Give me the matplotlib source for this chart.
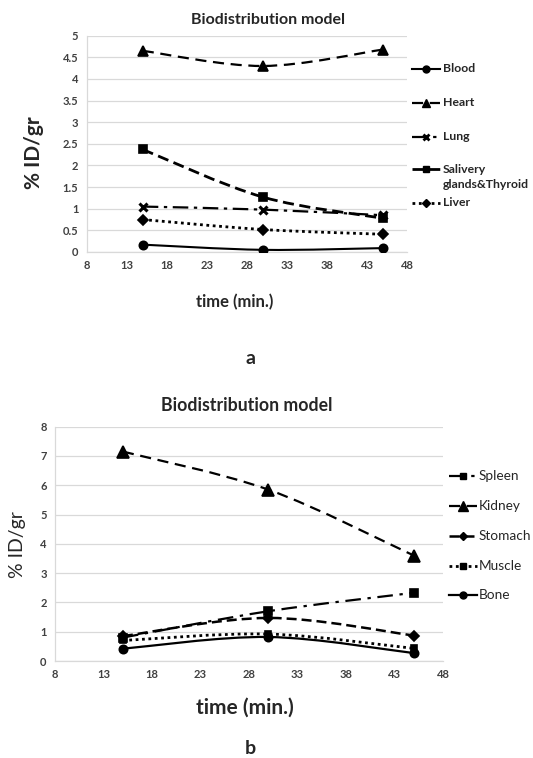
import numpy as np
import matplotlib
matplotlib.use("Agg")
import matplotlib.pyplot as plt
from matplotlib.path import Path
from matplotlib.patches import PathPatch
from matplotlib.lines import Line2D

plt.rcParams['font.family'] = ['Lato', 'DejaVu Sans']

# data
time = [15, 30, 45]

# panel a
blood = [0.17, 0.05, 0.09]
heart = [4.65, 4.30, 4.68]
lung = [1.05, 0.98, 0.85]
salivary = [2.37, 1.27, 0.78]
liver = [0.75, 0.52, 0.41]

# panel b
spleen = [0.80, 1.70, 2.33]
kidney = [7.15, 5.85, 3.60]
stomach = [0.85, 1.47, 0.87]
muscle = [0.70, 0.92, 0.43]
bone = [0.42, 0.82, 0.27]

x_ticks = [8, 13, 18, 23, 28, 33, 38, 43, 48]
y_ticks_a = [0, 0.5, 1, 1.5, 2, 2.5, 3, 3.5, 4, 4.5, 5]
y_ticks_b = [0, 1, 2, 3, 4, 5, 6, 7, 8]

W, H = 533, 758
TICK = '#404040'
TXT = '#262626'
GRID = '#d9d9d9'


def px(x, y):
    return x / W, 1 - y / H


def smooth_path(x, y):
    # excel-like smoothed line: catmull-rom turned into cubic bezier
    pts = np.column_stack([x, y]).astype(float)
    p = np.vstack([pts[0], pts, pts[-1]])
    verts = [pts[0]]
    codes = [Path.MOVETO]
    for i in range(1, len(p) - 2):
        c1 = p[i] + (p[i + 1] - p[i - 1]) / 6
        c2 = p[i + 1] - (p[i + 2] - p[i]) / 6
        verts += [c1, c2, p[i + 1]]
        codes += [Path.CURVE4] * 3
    return Path(verts, codes)


def draw_series(ax, y, ls, marker, lw, ms):
    ax.add_patch(PathPatch(smooth_path(time, y), fill=False, ec='black',
                           lw=lw, ls=ls, capstyle='butt', zorder=3))
    mew = 2.2 if marker == 'x' else 1.2
    ax.plot(time, y, ls='none', marker=marker, color='black', ms=ms,
            mew=mew, zorder=4)


def style_axes(ax, yticks, fs):
    ax.set_xlim(8, 48)
    ax.set_ylim(yticks[0], yticks[-1])
    ax.set_xticks(x_ticks)
    ax.set_yticks(yticks)
    ax.set_yticklabels([f'{v:g}' for v in yticks])
    ax.grid(axis='y', color=GRID, lw=0.9)
    ax.set_axisbelow(True)
    for s in ['top', 'right']:
        ax.spines[s].set_visible(False)
    for s in ['left', 'bottom']:
        ax.spines[s].set_color(GRID)
        ax.spines[s].set_linewidth(0.9)
    ax.tick_params(length=0, labelsize=fs, labelcolor=TICK, pad=6)
    for lab in ax.get_xticklabels() + ax.get_yticklabels():
        lab.set_fontweight('bold')


def legend_entry(x0, x1, y, ls, marker, ms, lw, label, tx, fs, weight):
    xa, ya = px(x0, y)
    xb, _ = px(x1, y)
    mew = 2.0 if marker == 'x' else 1.0
    fig.add_artist(Line2D([xa, (xa + xb) / 2, xb], [ya, ya, ya],
                          transform=fig.transFigure, color='black', lw=lw,
                          ls=ls, marker=marker, ms=ms, mew=mew, markevery=[1]))
    if label:
        fig.text(*px(tx, y), label, fontsize=fs, fontweight=weight,
                 color=TXT, va='center', ha='left')


fig = plt.figure(figsize=(W / 100, H / 100), dpi=100)

# ---- panel a ----
ax1 = fig.add_axes([86.7 / W, 1 - 252 / H, (407 - 86.7) / W, (252 - 35.7) / H])
style_axes(ax1, y_ticks_a, 8)
series_a = [
    ('Blood', blood, '-', 'o', 1.5, 6),
    ('Heart', heart, (0, (5, 3)), '^', 1.6, 7),
    ('Lung', lung, (0, (7, 2.5, 1.5, 2.5)), 'x', 1.6, 6),
    ('Salivery\nglands&Thyroid', salivary, (0, (4, 2)), 's', 2.0, 6),
    ('Liver', liver, (0, (1, 1.3)), 'D', 2.0, 5),
]
for name, vals, ls, mk, lw, ms in series_a:
    draw_series(ax1, vals, ls, mk, lw, ms)

fig.text(*px(268, 20), 'Biodistribution model', fontsize=11.5, fontweight='bold',
         ha='center', va='center', color=TXT)
fig.text(*px(34, 153), '% ID/gr', fontsize=15, fontweight='bold',
         rotation=90, ha='center', va='center', color=TXT)
fig.text(*px(235, 302), 'time (min.)', fontsize=12, fontweight='bold',
         ha='center', va='center', color=TXT)
fig.text(*px(250, 358), 'a', fontsize=14, fontweight='bold',
         ha='center', va='center', color=TXT)

leg_a_y = [69, 103, 137, 169, 203]
for (name, vals, ls, mk, lw, ms), y in zip(series_a, leg_a_y):
    label = '' if '\n' in name else name
    legend_entry(412, 440, y, ls, mk, ms - 1, lw, label, 443, 8.8, 'bold')
fig.text(*px(443, 177), series_a[3][0], fontsize=8.8, fontweight='bold',
         color=TXT, va='center', ha='left', linespacing=1.4)

# ---- panel b ----
ax2 = fig.add_axes([55 / W, 1 - 661 / H, (443 - 55) / W, (661 - 426.7) / H])
style_axes(ax2, y_ticks_b, 8)
series_b = [
    ('Spleen', spleen, (0, (7, 3, 1.5, 3)), 's', 1.6, 6),
    ('Kidney', kidney, (0, (5, 3)), '^', 1.6, 8),
    ('Stomach', stomach, (0, (4, 2)), 'D', 1.8, 5),
    ('Muscle', muscle, (0, (1, 1.3)), 's', 2.0, 5),
    ('Bone', bone, '-', 'o', 1.6, 6),
]
for name, vals, ls, mk, lw, ms in series_b:
    draw_series(ax2, vals, ls, mk, lw, ms)

fig.text(*px(247, 405), 'Biodistribution model', fontsize=12.7, fontweight='bold',
         ha='center', va='center', color=TXT)
fig.text(*px(18, 545), '% ID/gr', fontsize=14, rotation=90,
         ha='center', va='center', color=TXT)
fig.text(*px(245, 708), 'time (min.)', fontsize=15, fontweight='bold',
         ha='center', va='center', color=TXT)
fig.text(*px(250, 748), 'b', fontsize=14, fontweight='bold',
         ha='center', va='center', color=TXT)

leg_b_y = [476, 506, 536, 566, 595]
for (name, vals, ls, mk, lw, ms), y in zip(series_b, leg_b_y):
    legend_entry(449, 477, y, ls, mk, ms - 1, lw, name, 479, 9.8, 'normal')

fig.savefig('out.png', dpi=100)
